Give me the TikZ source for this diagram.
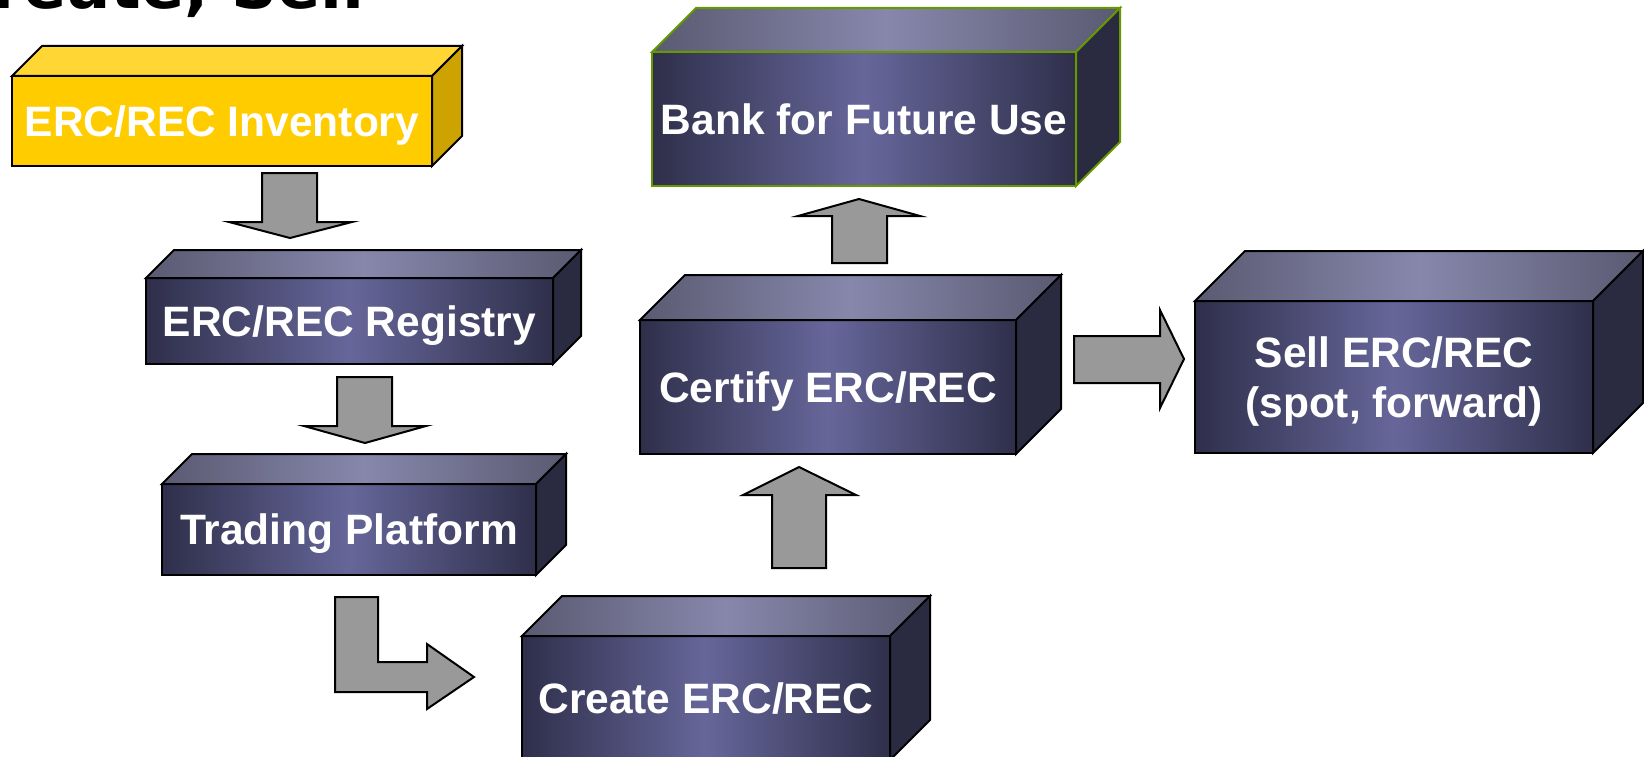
\documentclass[tikz,border=0pt]{standalone}
\usepackage{fontspec}
\setmainfont{Liberation Sans}
\newfontfamily\titlefont{DejaVu Sans}
\usetikzlibrary{calc}

\definecolor{facedark}{HTML}{2F2F4B}
\definecolor{facemid}{HTML}{66669A}
\definecolor{topdark}{HTML}{5A5A72}
\definecolor{topmid}{HTML}{8787AC}
\definecolor{sidedark}{HTML}{2A2A40}
\definecolor{invfront}{HTML}{FFCC00}
\definecolor{invtop}{HTML}{FFD633}
\definecolor{invside}{HTML}{CCA300}
\definecolor{bankgreen}{HTML}{669900}
\definecolor{arrowgray}{HTML}{999999}

\tikzset{
  boxbase/.style={draw=black, line width=2pt, outer sep=0pt, inner sep=0pt, text depth=0pt,
    text=white, align=center, font=\bfseries\fontsize{42.5}{50}\selectfont},
  box/.style={boxbase, left color=facedark, right color=facedark, middle color=facemid},
  invbox/.style={boxbase, fill=invfront},
  topface/.style={draw=black, line width=2pt, left color=topdark, right color=topdark, middle color=topmid},
  sideface/.style={draw=black, line width=2pt, fill=sidedark},
  blockarrow/.style={draw=black, line width=2pt, fill=arrowgray, line join=miter}
}

\begin{document}
\begin{tikzpicture}[x=1pt,y=-1pt]
  \useasboundingbox (0,0) rectangle (1644,757);

  % title, cut off by the page edge
  \node[anchor=base east, font=\titlefont\bfseries\fontsize{64}{64}\selectfont] (title) at (368,9) {Create, Sell};

  % boxes (front faces)
  \node[invbox, minimum width=420pt, minimum height=90pt] (inv) at (222,121) {ERC/REC Inventory};
  \node[box, minimum width=407pt, minimum height=86pt] (reg) at (349.5,321) {ERC/REC Registry};
  \node[box, minimum width=374pt, minimum height=91pt] (trade) at (349,529.5) {Trading Platform};
  \node[box, minimum width=368pt, minimum height=124pt] (create) at (706,698) {Create ERC/REC};
  \node[box, minimum width=376pt, minimum height=134pt] (cert) at (828,387) {Certify ERC/REC};
  \node[box, draw=bankgreen, minimum width=424pt, minimum height=134pt] (bank) at (864,119) {Bank for Future Use};
  \node[box, minimum width=398pt, minimum height=152pt] (sell) at (1394,377) {Sell ERC/REC\\(spot, forward)};

  % top and side faces
  \foreach \n/\off in {reg/28, trade/30, create/40, cert/45, sell/50}{
    \draw[topface] (\n.north west) -- ++(\off,-\off) -- ($(\n.north east)+(\off,-\off)$) -- (\n.north east) -- cycle;
    \draw[sideface] (\n.north east) -- ++(\off,-\off) -- ($(\n.south east)+(\off,-\off)$) -- (\n.south east) -- cycle;
  }
  \draw[topface, draw=bankgreen] (bank.north west) -- ++(44,-44) -- ($(bank.north east)+(44,-44)$) -- (bank.north east) -- cycle;
  \draw[sideface, draw=bankgreen] (bank.north east) -- ++(44,-44) -- ($(bank.south east)+(44,-44)$) -- (bank.south east) -- cycle;
  \draw[draw=black, line width=2pt, fill=invtop] (inv.north west) -- ++(30,-30) -- ($(inv.north east)+(30,-30)$) -- (inv.north east) -- cycle;
  \draw[draw=black, line width=2pt, fill=invside] (inv.north east) -- ++(30,-30) -- ($(inv.south east)+(30,-30)$) -- (inv.south east) -- cycle;

  % block arrows
  \draw[blockarrow] (262,173) -- (317,173) -- (317,222) -- (352,222) -- (290,238) -- (229,222) -- (262,222) -- cycle;
  \draw[blockarrow] (337,377) -- (392,377) -- (392,426) -- (426,426) -- (365,443) -- (304,426) -- (337,426) -- cycle;
  \draw[blockarrow] (335,597) -- (378,597) -- (378,662) -- (427,662) -- (427,644) -- (474,677) -- (427,709) -- (427,692) -- (335,692) -- cycle;
  \draw[blockarrow] (772,568) -- (826,568) -- (826,495) -- (856,495) -- (799,467) -- (743,495) -- (772,495) -- cycle;
  \draw[blockarrow] (832,263) -- (887,263) -- (887,216) -- (920,216) -- (859,199) -- (798,216) -- (832,216) -- cycle;
  \draw[blockarrow] (1074,336) -- (1160,336) -- (1160,310) -- (1184,359) -- (1160,408) -- (1160,383) -- (1074,383) -- cycle;
\end{tikzpicture}
\end{document}
